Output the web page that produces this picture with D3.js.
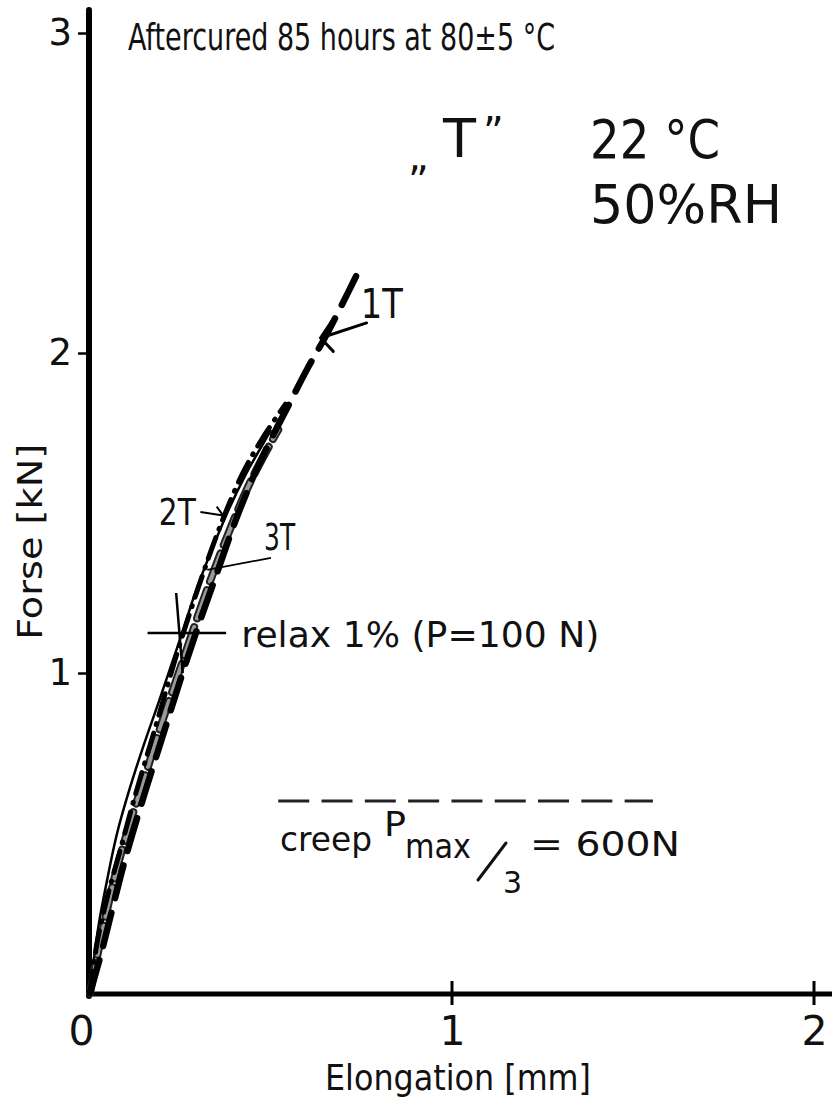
<!DOCTYPE html>
<html>
<head>
<meta charset="utf-8">
<script src="https://cdn.jsdelivr.net/npm/d3@7"></script>
<style>
  html, body { margin: 0; padding: 0; background: #fff; }
  svg { display: block; }
  text { font-family: "DejaVu Sans", "Liberation Sans", sans-serif; fill: #111; }
</style>
</head>
<body>
<svg id="chart" width="832" height="1099"></svg>
<script>
// Force–elongation curves, specimens 1T, 2T, 3T (kN vs mm)
const xTicks = [0, 1, 2];
const yTicks = [1, 2, 3];

const curve1T = [[0,0],[0.03,0.12],[0.07,0.30],[0.10,0.43],[0.15,0.62],[0.20,0.80],[0.25,0.98],[0.30,1.15],[0.35,1.31],[0.40,1.47],[0.45,1.61],[0.50,1.73],[0.55,1.84],[0.60,1.95],[0.65,2.05],[0.70,2.16],[0.735,2.24]];
const curve2T = [[0,0],[0.02,0.16],[0.05,0.31],[0.082,0.44],[0.123,0.61],[0.178,0.82],[0.24,1.06],[0.30,1.27],[0.36,1.46],[0.42,1.62],[0.48,1.74],[0.54,1.84]];
const curve3T = [[0,0],[0.03,0.17],[0.07,0.37],[0.11,0.53],[0.15,0.67],[0.20,0.85],[0.26,1.05],[0.32,1.25],[0.38,1.43],[0.44,1.59],[0.50,1.72],[0.52,1.76]];
const curveRef = [[0,0],[0.01,0.10],[0.025,0.22],[0.045,0.34],[0.075,0.50],[0.11,0.64],[0.15,0.78],[0.19,0.91],[0.25,1.11],[0.30,1.28],[0.375,1.49],[0.43,1.62],[0.48,1.72],[0.50,1.76]];

// creep level Pmax/3 = 600 N
const creepLevel = 0.6;
const creepSpan = [0.52, 1.555];
// relaxation point, P = 100 N drop
const relaxPoint = [0.247, 1.125];

const svg = d3.select("#chart");
svg.append("rect").attr("width", 832).attr("height", 1099).attr("fill", "#fff");

const x = d3.scaleLinear().domain([0, 2]).range([90, 814]);
const y = d3.scaleLinear().domain([0, 3]).range([993, 33]);

const line = d3.line().x(d => x(d[0])).y(d => y(d[1])).curve(d3.curveCatmullRom);

// axes
svg.append("line").attr("x1", x(0) - 1).attr("x2", x(0) - 1)
  .attr("y1", y(0) + 3).attr("y2", 10)
  .attr("stroke", "#000").attr("stroke-width", 6).attr("stroke-linecap", "round");
svg.append("line").attr("x1", x(0) - 4).attr("x2", 832)
  .attr("y1", y(0) + 1).attr("y2", y(0) + 1)
  .attr("stroke", "#000").attr("stroke-width", 5);

const yAxis = svg.append("g").attr("transform", `translate(${x(0) - 3},0)`)
  .call(d3.axisLeft(y).tickValues(yTicks).tickSize(9).tickPadding(6).tickFormat(d3.format("d")));
yAxis.select(".domain").remove();
yAxis.selectAll(".tick line").attr("stroke", "#000").attr("stroke-width", 2.5);
yAxis.selectAll(".tick text").attr("font-size", 37).attr("dy", "0.3em")
  .style("font-family", '"DejaVu Sans", sans-serif').attr("fill", "#111");

const xAxis = svg.append("g").attr("transform", `translate(0,${y(0) + 1})`)
  .call(d3.axisBottom(x).tickValues(xTicks).tickSize(0).tickPadding(22).tickFormat(d3.format("d")));
xAxis.select(".domain").remove();
xAxis.selectAll(".tick text").attr("font-size", 41).attr("dy", "0.71em")
  .style("font-family", '"DejaVu Sans", sans-serif').attr("fill", "#111")
  .attr("transform", d => d === 0 ? "translate(-9,0)" : "");
xTicks.filter(d => d > 0).forEach(d => {
  svg.append("line").attr("x1", x(d)).attr("x2", x(d))
    .attr("y1", y(0) - 12).attr("y2", y(0) + 12)
    .attr("stroke", "#000").attr("stroke-width", 3);
});

// axis titles
svg.append("text").attr("transform", `translate(42,${y(1.41)}) rotate(-90)`)
  .attr("text-anchor", "middle").attr("font-size", 34)
  .attr("textLength", 196).attr("lengthAdjust", "spacingAndGlyphs").text("Forse [kN]");
svg.append("text").attr("x", 325).attr("y", 1090).attr("font-size", 36)
  .attr("textLength", 266).attr("lengthAdjust", "spacingAndGlyphs").text("Elongation [mm]");

// curves
svg.append("path").datum(curveRef).attr("d", line)
  .attr("fill", "none").attr("stroke", "#000").attr("stroke-width", 2.5);

svg.append("path").datum(curve3T).attr("d", line)
  .attr("fill", "none").attr("stroke", "#222").attr("stroke-width", 8)
  .attr("stroke-dasharray", "30 9").attr("stroke-linecap", "round");
svg.append("path").datum(curve3T).attr("d", line)
  .attr("fill", "none").attr("stroke", "#9a9a9a").attr("stroke-width", 4)
  .attr("stroke-dasharray", "30 9").attr("stroke-linecap", "round");

svg.append("path").datum(curve2T).attr("d", line)
  .attr("fill", "none").attr("stroke", "#000").attr("stroke-width", 5)
  .attr("stroke-dasharray", "22 9 1 9").attr("stroke-linecap", "round");

svg.append("path").datum(curve1T).attr("d", line)
  .attr("fill", "none").attr("stroke", "#000").attr("stroke-width", 6.5)
  .attr("stroke-dasharray", "34 15").attr("stroke-linecap", "round");

// relaxation cross
svg.append("line").attr("x1", x(0.159)).attr("x2", x(0.376))
  .attr("y1", y(relaxPoint[1])).attr("y2", y(relaxPoint[1]))
  .attr("stroke", "#000").attr("stroke-width", 2.5);
svg.append("line").attr("x1", x(0.238)).attr("x2", x(0.256))
  .attr("y1", y(1.25)).attr("y2", y(1.0))
  .attr("stroke", "#000").attr("stroke-width", 2.5);
svg.append("text").attr("x", x(0.418)).attr("y", y(1.081)).attr("font-size", 35)
  .attr("textLength", 358).attr("lengthAdjust", "spacingAndGlyphs").text("relax 1% (P=100 N)");

// labels and pointers
svg.append("text").attr("x", x(0.748)).attr("y", y(2.11)).attr("font-size", 40)
  .attr("textLength", 42).attr("lengthAdjust", "spacingAndGlyphs").text("1T");
svg.append("path")
  .attr("d", `M${x(0.764)},${y(2.094)} L${x(0.637)},${y(2.047)} M${x(0.668)},${y(2.10)} L${x(0.637)},${y(2.047)} L${x(0.672)},${y(2.005)}`)
  .attr("fill", "none").attr("stroke", "#000").attr("stroke-width", 3).attr("stroke-linecap", "round");

svg.append("text").attr("x", x(0.19)).attr("y", y(1.462)).attr("font-size", 38)
  .attr("textLength", 37).attr("lengthAdjust", "spacingAndGlyphs").text("2T");
svg.append("path")
  .attr("d", `M${x(0.305)},${y(1.503)} L${x(0.368)},${y(1.492)} M${x(0.35)},${y(1.52)} L${x(0.368)},${y(1.492)}`)
  .attr("fill", "none").attr("stroke", "#000").attr("stroke-width", 2);

svg.append("text").attr("x", x(0.481)).attr("y", y(1.384)).attr("font-size", 38)
  .attr("textLength", 31).attr("lengthAdjust", "spacingAndGlyphs").text("3T");
svg.append("line").attr("x1", x(0.5)).attr("y1", y(1.36)).attr("x2", x(0.324)).attr("y2", y(1.322))
  .attr("stroke", "#000").attr("stroke-width", 1.8);

// creep reference level
svg.append("line").attr("x1", x(creepSpan[0])).attr("x2", x(creepSpan[1]))
  .attr("y1", y(creepLevel)).attr("y2", y(creepLevel))
  .attr("stroke", "#222").attr("stroke-width", 3).attr("stroke-dasharray", "31 12.3");

const creep = svg.append("g").attr("font-size", 34);
creep.append("text").attr("x", 280).attr("y", 851).attr("textLength", 92).attr("lengthAdjust", "spacingAndGlyphs").text("creep");
creep.append("text").attr("x", 384).attr("y", 836).attr("textLength", 22).attr("lengthAdjust", "spacingAndGlyphs").text("P");
creep.append("text").attr("x", 405).attr("y", 858).attr("textLength", 66).attr("lengthAdjust", "spacingAndGlyphs").text("max");
creep.append("line").attr("x1", 478).attr("y1", 880).attr("x2", 506).attr("y2", 843)
  .attr("stroke", "#111").attr("stroke-width", 3).attr("stroke-linecap", "round");
creep.append("text").attr("x", 503).attr("y", 893).attr("font-size", 30).text("3");
creep.append("text").attr("x", 530).attr("y", 856).attr("textLength", 150).attr("lengthAdjust", "spacingAndGlyphs").text("= 600N");

// test conditions
svg.append("text").attr("x", 128).attr("y", 50).attr("font-size", 38)
  .attr("textLength", 427).attr("lengthAdjust", "spacingAndGlyphs").text("Aftercured  85 hours at 80±5 °C");
svg.append("text").attr("x", 408).attr("y", 170).attr("font-size", 40).text("„");
svg.append("text").attr("x", 443).attr("y", 157).attr("font-size", 54).text("T");
svg.append("text").attr("x", 483).attr("y", 146).attr("font-size", 40).text("\u201D");
svg.append("text").attr("x", 590).attr("y", 158).attr("font-size", 54)
  .attr("textLength", 130).attr("lengthAdjust", "spacingAndGlyphs").text("22 °C");
svg.append("text").attr("x", 590).attr("y", 223).attr("font-size", 54)
  .attr("textLength", 192).attr("lengthAdjust", "spacingAndGlyphs").text("50%RH");
</script>
</body>
</html>
